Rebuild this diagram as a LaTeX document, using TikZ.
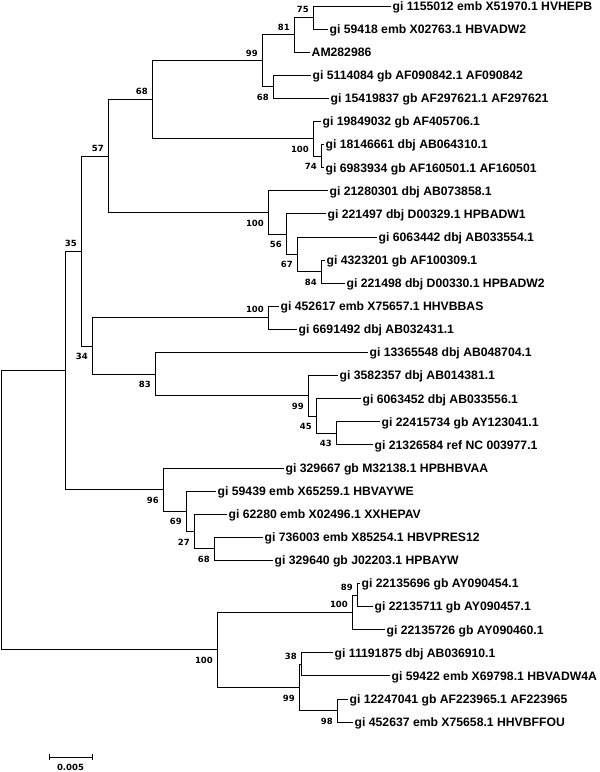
\documentclass[tikz,border=0pt]{standalone}
\usepackage{fontspec}
\setmainfont{Liberation Sans}
\newfontfamily\numfont{DejaVu Sans}
\begin{document}
\begin{tikzpicture}[x=1pt,y=-1pt,
  br/.style={line width=0.85pt, black},
  leaf/.style={anchor=west, inner xsep=1.5pt, inner ysep=0pt, text height=8.6pt, text depth=0pt, font=\bfseries\fontsize{12.2}{12.2}\selectfont},
  num/.style={inner sep=0pt, text height=6.2pt, text depth=0pt, font=\numfont\bfseries\fontsize{8.5}{8.5}\selectfont},
  bsa/.style={num, anchor=east, xshift=-4pt, yshift=8pt},
  bsb/.style={num, anchor=east, xshift=-4pt, yshift=-10.5pt}]
\useasboundingbox (0,0) rectangle (600,772);
% internal nodes
\coordinate (root) at (1,510.15);
\coordinate (nA) at (65,370.4);
\coordinate (n35) at (81,251.1);
\coordinate (n57) at (108,156.15);
\coordinate (n68) at (152,99.85);
\coordinate (n99a) at (262,60.9);
\coordinate (n81) at (294,34.9);
\coordinate (n75) at (313,17.55);
\coordinate (n68b) at (273,86.85);
\coordinate (n100a) at (313,138.8);
\coordinate (n74) at (321,156.15);
\coordinate (n100b) at (268,212.45);
\coordinate (n56) at (286,234.1);
\coordinate (n67) at (297,254.3);
\coordinate (n84) at (321,271.65);
\coordinate (n34) at (92,346);
\coordinate (n100c) at (268,317.85);
\coordinate (n83) at (155,374.15);
\coordinate (n99c) at (308,395.8);
\coordinate (n45) at (316,416);
\coordinate (n43) at (336,433.35);
\coordinate (n96) at (163,489.65);
\coordinate (n69) at (186,511.3);
\coordinate (n27) at (194,531.5);
\coordinate (n68c) at (214,548.85);
\coordinate (n100e) at (217,649.9);
\coordinate (n100d) at (352,612.4);
\coordinate (n89) at (357,595.05);
\coordinate (n99d) at (299,687.45);
\coordinate (n38) at (301,664.35);
\coordinate (n98) at (337,710.55);
% leaves
\node[leaf] (L1) at (391,6) {gi 1155012 emb X51970.1 HVHEPB};
\node[leaf] (L2) at (328,29.1) {gi 59418 emb X02763.1 HBVADW2};
\node[leaf] (L3) at (310,52.2) {AM282986};
\node[leaf] (L4) at (311,75.3) {gi 5114084 gb AF090842.1 AF090842};
\node[leaf] (L5) at (329,98.4) {gi 15419837 gb AF297621.1 AF297621};
\node[leaf] (L6) at (321,121.5) {gi 19849032 gb AF405706.1};
\node[leaf] (L7) at (324,144.6) {gi 18146661 dbj AB064310.1};
\node[leaf] (L8) at (324,167.7) {gi 6983934 gb AF160501.1 AF160501};
\node[leaf] (L9) at (328,190.8) {gi 21280301 dbj AB073858.1};
\node[leaf] (L10) at (326,213.9) {gi 221497 dbj D00329.1 HPBADW1};
\node[leaf] (L11) at (377,237.0) {gi 6063442 dbj AB033554.1};
\node[leaf] (L12) at (325,260.1) {gi 4323201 gb AF100309.1};
\node[leaf] (L13) at (345,283.2) {gi 221498 dbj D00330.1 HPBADW2};
\node[leaf] (L14) at (279,306.3) {gi 452617 emb X75657.1 HHVBBAS};
\node[leaf] (L15) at (297,329.4) {gi 6691492 dbj AB032431.1};
\node[leaf] (L16) at (368,352.5) {gi 13365548 dbj AB048704.1};
\node[leaf] (L17) at (338,375.6) {gi 3582357 dbj AB014381.1};
\node[leaf] (L18) at (361,398.7) {gi 6063452 dbj AB033556.1};
\node[leaf] (L19) at (380,421.8) {gi 22415734 gb AY123041.1};
\node[leaf] (L20) at (373,444.9) {gi 21326584 ref NC 003977.1};
\node[leaf] (L21) at (284,468.0) {gi 329667 gb M32138.1 HPBHBVAA};
\node[leaf] (L22) at (216,491.1) {gi 59439 emb X65259.1 HBVAYWE};
\node[leaf] (L23) at (227,514.2) {gi 62280 emb X02496.1 XXHEPAV};
\node[leaf] (L24) at (263,537.3) {gi 736003 emb X85254.1 HBVPRES12};
\node[leaf] (L25) at (273,560.4) {gi 329640 gb J02203.1 HPBAYW};
\node[leaf] (L26) at (360,583.5) {gi 22135696 gb AY090454.1};
\node[leaf] (L27) at (373,606.6) {gi 22135711 gb AY090457.1};
\node[leaf] (L28) at (385,629.7) {gi 22135726 gb AY090460.1};
\node[leaf] (L29) at (333,652.8) {gi 11191875 dbj AB036910.1};
\node[leaf] (L30) at (390,675.9) {gi 59422 emb X69798.1 HBVADW4A};
\node[leaf] (L31) at (348,699.0) {gi 12247041 gb AF223965.1 AF223965};
\node[leaf] (L32) at (353,722.1) {gi 452637 emb X75658.1 HHVBFFOU};
% branches
\draw[br] (root) |- (nA);   \draw[br] (root) |- (n100e);
\draw[br] (nA) |- (n35);    \draw[br] (nA) |- (n96);
\draw[br] (n35) |- (n57);   \draw[br] (n35) |- (n34);
\draw[br] (n57) |- (n68);   \draw[br] (n57) |- (n100b);
\draw[br] (n68) |- (n99a);  \draw[br] (n68) |- (n100a);
\draw[br] (n99a) |- (n81);  \draw[br] (n99a) |- (n68b);
\draw[br] (n81) |- (n75);   \draw[br] (n81) |- (L3.west);
\draw[br] (n75) |- (L1.west); \draw[br] (n75) |- (L2.west);
\draw[br] (n68b) |- (L4.west); \draw[br] (n68b) |- (L5.west);
\draw[br] (n100a) |- (L6.west); \draw[br] (n100a) |- (n74);
\draw[br] (n74) |- (L7.west); \draw[br] (n74) |- (L8.west);
\draw[br] (n100b) |- (L9.west); \draw[br] (n100b) |- (n56);
\draw[br] (n56) |- (L10.west); \draw[br] (n56) |- (n67);
\draw[br] (n67) |- (L11.west); \draw[br] (n67) |- (n84);
\draw[br] (n84) |- (L12.west); \draw[br] (n84) |- (L13.west);
\draw[br] (n34) |- (n100c); \draw[br] (n34) |- (n83);
\draw[br] (n100c) |- (L14.west); \draw[br] (n100c) |- (L15.west);
\draw[br] (n83) |- (L16.west); \draw[br] (n83) |- (n99c);
\draw[br] (n99c) |- (L17.west); \draw[br] (n99c) |- (n45);
\draw[br] (n45) |- (L18.west); \draw[br] (n45) |- (n43);
\draw[br] (n43) |- (L19.west); \draw[br] (n43) |- (L20.west);
\draw[br] (n96) |- (L21.west); \draw[br] (n96) |- (n69);
\draw[br] (n69) |- (L22.west); \draw[br] (n69) |- (n27);
\draw[br] (n27) |- (L23.west); \draw[br] (n27) |- (n68c);
\draw[br] (n68c) |- (L24.west); \draw[br] (n68c) |- (L25.west);
\draw[br] (n100e) |- (n100d); \draw[br] (n100e) |- (n99d);
\draw[br] (n100d) |- (n89); \draw[br] (n100d) |- (L28.west);
\draw[br] (n89) |- (L26.west); \draw[br] (n89) |- (L27.west);
\draw[br] (n99d) |- (n38); \draw[br] (n99d) |- (n98);
\draw[br] (n38) |- (L29.west); \draw[br] (n38) |- (L30.west);
\draw[br] (n98) |- (L31.west); \draw[br] (n98) |- (L32.west);
% bootstrap values
\node[bsa] (b75) at (n75) {75};
\node[bsa] (b81) at (n81) {81};
\node[bsa] (b99a) at (n99a) {99};
\node[bsb] (b68b) at (n68b) {68};
\node[bsa] (b68) at (n68) {68};
\node[bsb] (b100a) at (n100a) {100};
\node[bsb] (b74) at (n74) {74};
\node[bsa] (b57) at (n57) {57};
\node[bsa] (b35) at (n35) {35};
\node[bsb] (b100b) at (n100b) {100};
\node[bsb] (b56) at (n56) {56};
\node[bsb] (b67) at (n67) {67};
\node[bsb] (b84) at (n84) {84};
\node[bsa] (b100c) at (n100c) {100};
\node[bsb] (b34) at (n34) {34};
\node[bsb] (b83) at (n83) {83};
\node[bsb] (b99c) at (n99c) {99};
\node[bsb] (b45) at (n45) {45};
\node[bsb] (b43) at (n43) {43};
\node[bsb] (b96) at (n96) {96};
\node[bsb] (b69) at (n69) {69};
\node[bsb] (b27) at (n27) {27};
\node[bsb] (b68c) at (n68c) {68};
\node[bsa] (b89) at (n89) {89};
\node[bsa] (b100d) at (n100d) {100};
\node[bsb] (b100e) at (n100e) {100};
\node[bsa] (b38) at (n38) {38};
\node[bsb] (b99d) at (n99d) {99};
\node[bsb] (b98) at (n98) {98};
% scale bar
\coordinate (sbl) at (49,757);
\coordinate (sbr) at (92,757);
\draw[br] (sbl) -- (sbr);
\draw[br] ([yshift=3pt]sbl) -- ([yshift=-3pt]sbl);
\draw[br] ([yshift=3pt]sbr) -- ([yshift=-3pt]sbr);
\node[num] (sblab) at (70.5,767) {0.005};
\end{tikzpicture}
\end{document}
